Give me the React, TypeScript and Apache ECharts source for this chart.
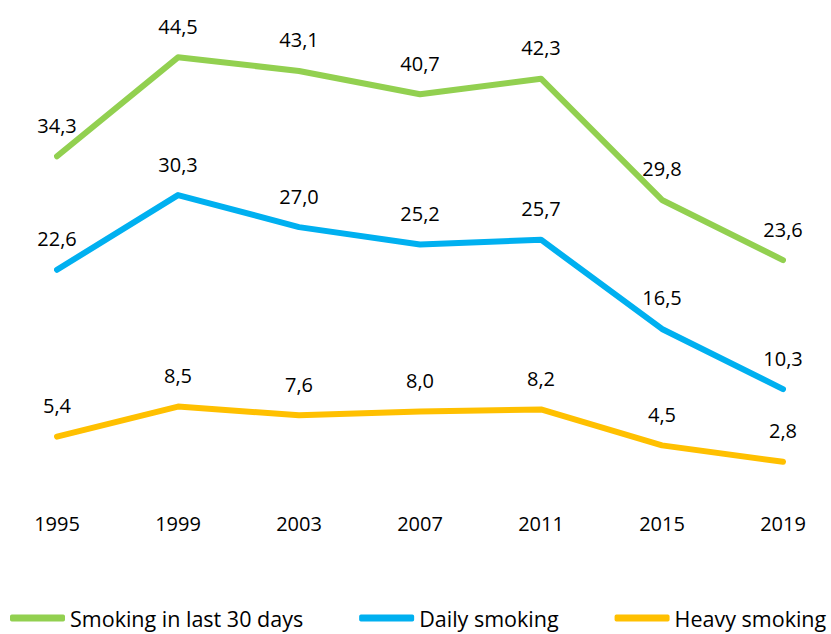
import React, { useEffect, useRef } from "react";
import * as echarts from "echarts";

const years = ["1995", "1999", "2003", "2007", "2011", "2015", "2019"];
const last30 = [34.3, 44.5, 43.1, 40.7, 42.3, 29.8, 23.6];
const daily = [22.6, 30.3, 27.0, 25.2, 25.7, 16.5, 10.3];
const heavy = [5.4, 8.5, 7.6, 8.0, 8.2, 4.5, 2.8];

const seriesNames = ["Smoking in last 30 days", "Daily smoking", "Heavy smoking"];
const colors = ["#92D050", "#00B0F0", "#FFC000"];

const FONT = "'Open Sans', 'Noto Sans', sans-serif";

export default function App() {
  const ref = useRef<HTMLDivElement>(null);
  useEffect(() => {
    if (!ref.current) return;
    const chart = echarts.init(ref.current, undefined, { renderer: "svg" });
    const data = [last30, daily, heavy];
    chart.setOption({
      animation: false,
      grid: { left: 57, right: 48, top: 4, bottom: 145, containLabel: false },
      legend: {
        left: 10,
        top: 607,
        width: 1200,
        padding: 0,
        icon: "roundRect",
        itemWidth: 55,
        itemHeight: 7,
        itemGap: 56,
        textStyle: { fontFamily: FONT, fontSize: 21.5, color: "#000" },
        data: seriesNames,
      },
      xAxis: {
        type: "category",
        data: years,
        boundaryGap: false,
        axisLine: { show: false },
        axisTick: { show: false },
        axisLabel: { fontFamily: FONT, fontSize: 20, color: "#000", margin: 24 },
        splitLine: { show: false },
      },
      yAxis: {
        type: "value",
        min: 0,
        max: 50,
        show: false,
        splitLine: { show: false },
      },
      series: seriesNames.map((name, i) => ({
        name,
        type: "line",
        data: data[i],
        symbol: "circle",
        symbolSize: 2,
        showSymbol: true,
        lineStyle: { width: 6, color: colors[i], cap: "round", join: "round" },
        itemStyle: { color: colors[i] },
        label: {
          show: true,
          position: "top",
          distance: 20,
          fontFamily: FONT,
          fontSize: 20,
          color: "#000",
          formatter: (p: any) => p.value.toFixed(1).replace(".", ","),
        },
      })),
    });
    return () => chart.dispose();
  }, []);
  return <div ref={ref} style={{ width: 831, height: 634, position: "absolute", left: 0, top: 0 }} />;
}
